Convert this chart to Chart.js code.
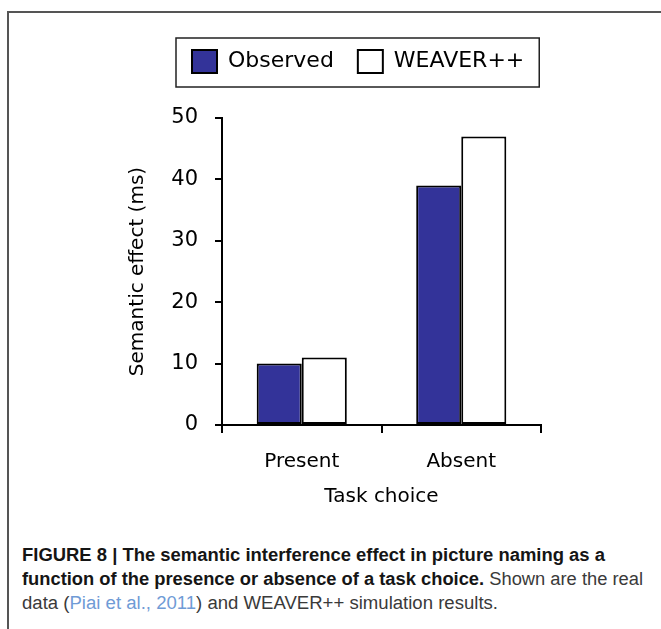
<!DOCTYPE html>
<html>
<head>
<meta charset="utf-8">
<title>Semantic effect</title>
<script src="https://cdn.jsdelivr.net/npm/chart.js@4.4.0/dist/chart.umd.min.js"></script>
<style>
  html, body { margin: 0; padding: 0; background: #fff; overflow: hidden; }
  #frame { position: absolute; left: 7px; top: 11px; width: 700px; height: 700px;
           border-left: 2px solid #555; border-top: 2px solid #555; }
  #wrap { position: absolute; left: 0; top: 0; width: 661px; height: 520px; }
  .cap { position: absolute; left: 22px; white-space: nowrap; transform-origin: 0 0;
         font-family: "Liberation Sans", Arial, sans-serif; font-size: 18px; line-height: 24px; color: #3a3a3a; }
  .cap b { color: #151515; }
  .cap .ref { color: #6f9bd6; }
</style>
</head>
<body>
<div id="frame"></div>
<div id="wrap"><canvas id="effectChart" width="661" height="520"></canvas></div>
<div class="cap" id="cap1" style="top:543px"><b>FIGURE 8 | The semantic interference effect in picture naming as a</b></div>
<div class="cap" id="cap2" style="top:567px"><b>function of the presence or absence of a task choice.</b> Shown are the real</div>
<div class="cap" id="cap3" style="top:591px">data (<span class="ref">Piai et al., 2011</span>) and WEAVER++ simulation results.</div>
<script>
// data
const categories = ['Present', 'Absent'];
const observed = [10, 39];
const weaver = [11, 47];
const yTicks = [0, 10, 20, 30, 40, 50];
const seriesNames = ['Observed', 'WEAVER++'];

Chart.defaults.font.family = '"DejaVu Sans", Verdana, sans-serif';
Chart.defaults.color = '#000';

// where the legend items should start (first swatch left / legend top)
const LEGEND_X = 192;
const LEGEND_Y = 26;

// move the legend off the default centre
const legendPlace = {
    id: 'legendPlace',
    afterLayout(chart) {
        const lg = chart.legend;
        if (!lg || !lg.lineWidths) return;
        const pad = lg.options.labels.padding;
        const start = (lg.left + pad + lg.right - lg.lineWidths[0]) / 2;
        const dx = LEGEND_X - start;
        const dy = LEGEND_Y - lg.top;
        lg.left += dx; lg.right += dx;
        lg.top += dy; lg.bottom += dy;
    }
};

// box round the legend
const legendFrame = {
    id: 'legendFrame',
    afterDraw(chart) {
        const boxes = chart.legend.legendHitBoxes;
        if (!boxes || !boxes.length) return;
        const ctx = chart.ctx;
        const l = Math.min(...boxes.map(b => b.left)) - 16;
        const r = Math.max(...boxes.map(b => b.left + b.width)) + 15;
        const t = Math.min(...boxes.map(b => b.top)) - 12;
        const btm = Math.max(...boxes.map(b => b.top + b.height)) + 14;
        ctx.save();
        ctx.strokeStyle = '#222';
        ctx.lineWidth = 1.5;
        ctx.strokeRect(l, t, r - l, btm - t);
        ctx.restore();
    }
};

const ctx = document.getElementById('effectChart');
new Chart(ctx, {
    type: 'bar',
    data: {
        labels: categories,
        datasets: [{
            label: seriesNames[0],
            data: observed,
            backgroundColor: '#333399',
            borderColor: '#000',
            borderWidth: 2,
            borderSkipped: false
        }, {
            label: seriesNames[1],
            data: weaver,
            backgroundColor: '#ffffff',
            borderColor: '#000',
            borderWidth: 2,
            borderSkipped: false
        }]
    },
    options: {
        responsive: false,
        animation: false,
        layout: { padding: { top: 61, left: 110, right: 120, bottom: 11 } },
        datasets: { bar: { categoryPercentage: 0.565, barPercentage: 1.0 } },
        plugins: {
            tooltip: { enabled: false },
            legend: {
                position: 'top',
                labels: {
                    boxWidth: 25,
                    boxHeight: 23,
                    padding: 24,
                    color: '#000',
                    font: { size: 22 }
                }
            }
        },
        scales: {
            x: {
                afterFit: (s) => { s.height = 84; },
                border: { display: true, color: '#000', width: 2 },
                grid: { drawOnChartArea: false, color: '#000', lineWidth: 2, tickLength: 8, offset: true },
                ticks: { padding: 17, font: { size: 20 }, color: '#000' },
                title: { display: true, text: 'Task choice', font: { size: 20 }, color: '#000', padding: { top: 0, bottom: 0 } }
            },
            y: {
                min: yTicks[0],
                max: yTicks[yTicks.length - 1],
                afterFit: (s) => { s.width = 112; },
                border: { display: true, color: '#000', width: 2 },
                grid: { drawOnChartArea: false, color: '#000', lineWidth: 2, tickLength: 7 },
                ticks: { stepSize: yTicks[1] - yTicks[0], padding: 17, font: { size: 21 }, color: '#000' },
                title: { display: true, text: 'Semantic effect (ms)', font: { size: 20 }, color: '#000', padding: { top: 16, bottom: 0 } }
            }
        }
    },
    plugins: [legendPlace, legendFrame]
});

// squeeze caption lines to the widths of the figure's condensed type
const capWidths = { cap1: 583, cap2: 621, cap3: 476 };
for (const id in capWidths) {
    const el = document.getElementById(id);
    const w = el.getBoundingClientRect().width;
    el.style.transform = 'scaleX(' + (capWidths[id] / w) + ')';
}
</script>
</body>
</html>
